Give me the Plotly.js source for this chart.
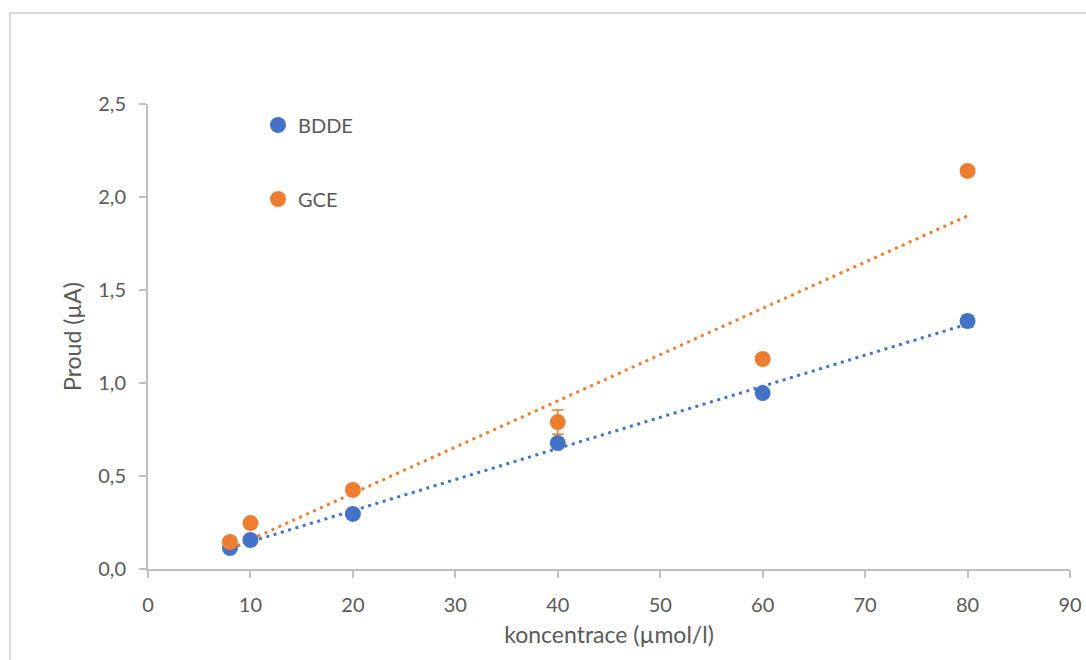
<!DOCTYPE html>
<html>
<head>
<meta charset="utf-8">
<script src="https://cdn.plot.ly/plotly-3.0.1.min.js"></script>
<style>
  html, body { margin: 0; padding: 0; overflow: hidden; background: #fff; }
  #wrap { position: relative; width: 1086px; height: 660px; overflow: hidden; }
  #chart { position: absolute; left: 0; top: 0; width: 1086px; height: 660px; }
  #frame { position: absolute; left: 9px; top: 12px; width: 1200px; height: 800px;
           border: 2px solid #d9d9d9; pointer-events: none; }
</style>
</head>
<body>
<div id="wrap">
  <div id="chart"></div>
  <div id="frame"></div>
</div>
<script>
// Data
const concentration = [8, 10, 20, 40, 60, 80];
const bddeCurrent = [0.113, 0.156, 0.296, 0.677, 0.946, 1.333];
const bddeError   = [0.015, 0.015, 0.015, 0.02, 0.02, 0.03];
const gceCurrent  = [0.145, 0.247, 0.425, 0.790, 1.129, 2.140];
const gceError    = [0.02, 0.015, 0.02, 0.065, 0.02, 0.02];
const seriesNames = ['BDDE', 'GCE'];
const xTickVals = [0, 10, 20, 30, 40, 50, 60, 70, 80, 90];
const yTickVals = [0, 0.5, 1.0, 1.5, 2.0, 2.5];

const blue = '#4472c4';
const orange = '#ed7d31';
const textCol = '#595959';
const axisCol = '#bfbfbf';
const FONT = 'Lato, "Open Sans", "Liberation Sans", sans-serif';

function linfit(xs, ys) {
  const n = xs.length;
  const mx = xs.reduce((a, b) => a + b, 0) / n;
  const my = ys.reduce((a, b) => a + b, 0) / n;
  let sxy = 0, sxx = 0;
  for (let i = 0; i < n; i++) { sxy += (xs[i] - mx) * (ys[i] - my); sxx += (xs[i] - mx) ** 2; }
  const k = sxy / sxx;
  return { k: k, q: my - k * mx };
}
function trend(xs, ys) {
  const f = linfit(xs, ys);
  const x0 = Math.min(...xs), x1 = Math.max(...xs);
  return { x: [x0, x1], y: [f.k * x0 + f.q, f.k * x1 + f.q] };
}
const tB = trend(concentration, bddeCurrent);
const tG = trend(concentration, gceCurrent);

const traces = [
  { x: tB.x, y: tB.y, mode: 'lines', showlegend: false, hoverinfo: 'skip',
    line: { color: blue, width: 3, dash: '3px,4.6px' } },
  { x: tG.x, y: tG.y, mode: 'lines', showlegend: false, hoverinfo: 'skip',
    line: { color: orange, width: 3, dash: '3px,4.6px' } },
  { x: concentration, y: bddeCurrent, name: seriesNames[0], mode: 'markers', legend: 'legend',
    marker: { color: blue, size: 16 },
    error_y: { type: 'data', array: bddeError, visible: true, color: blue, thickness: 1.5, width: 6 } },
  { x: concentration, y: gceCurrent, name: seriesNames[1], mode: 'markers', legend: 'legend2',
    marker: { color: orange, size: 16 },
    error_y: { type: 'data', array: gceError, visible: true, color: orange, thickness: 1.5, width: 6 } }
];

const plotW = 1086 - 148 - 16;
const plotH = 660 - 104 - 91;

const layout = {
  width: 1086, height: 660,
  margin: { l: 148, r: 16, t: 104, b: 91 },
  paper_bgcolor: 'rgba(0,0,0,0)', plot_bgcolor: '#fff',
  separators: ', ',
  font: { family: FONT, color: textCol, size: 20 },
  xaxis: {
    range: [0, 90], tickvals: xTickVals, ticktext: xTickVals.map(String),
    showgrid: false, zeroline: false, showline: true, linecolor: axisCol, linewidth: 2,
    ticks: 'outside', ticklen: 7, tickwidth: 2, tickcolor: axisCol, ticklabelstandoff: 10,
    tickfont: { size: 20, color: textCol, family: FONT },
    title: { text: 'koncentrace (µmol/l)', font: { size: 23, color: textCol, family: FONT }, standoff: 12 }
  },
  yaxis: {
    range: [0, 2.5], tickvals: yTickVals, tickformat: '.1f',
    showgrid: false, zeroline: false, showline: true, linecolor: axisCol, linewidth: 2,
    ticks: 'outside', ticklen: 7, tickwidth: 2, tickcolor: axisCol, ticklabelstandoff: 9,
    tickfont: { size: 20, color: textCol, family: FONT },
    title: { text: 'Proud (µA)', font: { size: 23, color: textCol, family: FONT }, standoff: 10 }
  },
  legend: {
    x: (258 - 148) / plotW, y: (569 - 125) / plotH, xanchor: 'left', yanchor: 'middle',
    bgcolor: 'rgba(0,0,0,0)', font: { size: 20, color: textCol, family: FONT }, itemwidth: 30
  },
  legend2: {
    x: (258 - 148) / plotW, y: (569 - 199) / plotH, xanchor: 'left', yanchor: 'middle',
    bgcolor: 'rgba(0,0,0,0)', font: { size: 20, color: textCol, family: FONT }, itemwidth: 30
  },
  showlegend: true
};

Plotly.newPlot('chart', traces, layout, { displayModeBar: false, staticPlot: true });
</script>
</body>
</html>
